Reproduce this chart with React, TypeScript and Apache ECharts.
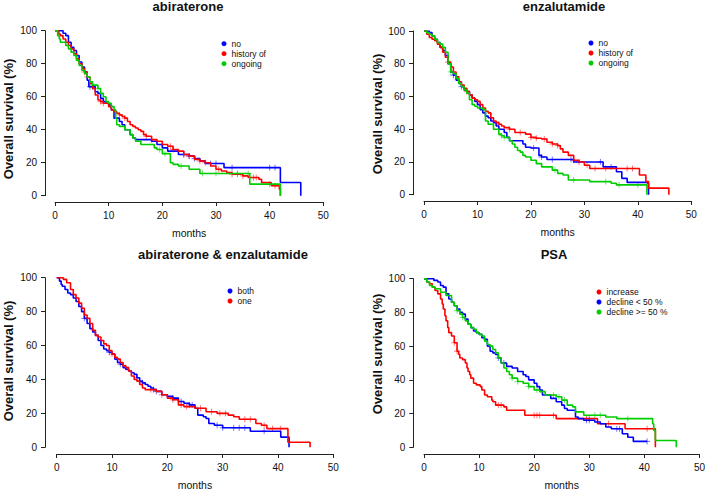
import React, { useEffect, useRef } from "react";
import * as echarts from "echarts";

const BLUE = "#0000FF";
const RED = "#FF0000";
const GREEN = "#00CD00";

const xTicks = [0, 10, 20, 30, 40, 50];
const yTicks = [0, 20, 40, 60, 80, 100];

const panelTitles = ["abiraterone", "enzalutamide", "abiraterone & enzalutamide", "PSA"];
const groupsTop = ["no", "history of", "ongoing"];
const groupsBoth = ["both", "one"];
const groupsPsa = ["increase", "decline < 50 %", "decline >= 50 %"];

// Panel 1: abiraterone
const abiNo = [[0,100],[1.5,98.5],[2,97],[2.5,93],[3,90],[3.5,88],[4,85],[4.5,81],[5,78],[5.5,75],[6,70],[6.3,66],[7.5,63],[8,62],[8.5,59],[9,57],[9.5,56],[10,55],[10.5,52],[11,47],[12,45],[12.5,43],[13,40],[14,37],[14.5,35],[15,34],[18,33],[19,31],[20,29],[21,27],[23,25],[25,24],[26,22.5],[27,21],[28,19.5],[31.5,17],[42,8],[45.8,0]];
const abiNoCens = [6.5, 7, 24, 25, 26, 29, 30, 33, 40, 41];
const abiHist = [[0,100],[0.7,98],[1,97],[1.5,95],[2,93],[2.5,91],[3,89],[3.5,86],[4,83],[4.5,80],[5,77],[5.5,75],[6,72],[6.5,68],[7,65],[7.5,61],[8,58],[8.5,57],[9,56],[10,54],[10.5,52],[11,51],[11.5,50],[12,49],[12.5,48],[13,47],[13.5,45],[14,43],[14.5,42],[15,41],[15.5,40],[16,39],[16.5,37],[17,36],[18,34],[19,33],[20,31],[21,30],[22,28],[23,27],[24,25],[25,24],[26,22],[27,21],[28,20],[29,18],[30,16],[31,15],[32,14],[33,13],[35,12],[36,11],[38,10],[38.5,8],[40.3,6],[41.8,4],[42,0]];
const abiHistCens = [5.5, 6, 8.5, 9, 12, 13, 17, 18, 20, 21.5, 22, 24, 25, 27, 28, 30.5, 33, 34, 35, 37, 37.5, 41];
const abiOng = [[0,100],[0.5,97],[0.8,95],[1,93],[2,91],[2.5,89],[3,87],[3.5,85],[4,82],[4.5,79],[5,76],[5.5,74],[6,72],[6.5,69],[7,67],[8,65],[8.5,62],[9,60],[9.5,57],[10,56],[10.5,54],[11,52],[11.3,47],[11.5,43],[12,42],[13,40],[14,37],[14.5,35],[15,33],[16,31],[18.5,29],[19,28],[20,25.5],[21.5,20],[22,19],[23,18],[25,16],[27,13.5],[36.3,7],[42,0]];
const abiOngCens = [7, 8, 19.5, 20.5, 23.5, 27.5, 30, 34, 36, 40];

// Panel 2: enzalutamide
const enzNo = [[0,100],[1,99],[1.5,97],[2,95],[2.5,93],[3,90],[3.5,88],[4,85],[4.5,80],[5,75],[5.5,73],[6,70],[6.5,68],[7,66],[7.5,64],[8,63],[8.5,61],[9,59],[9.5,57],[10,55],[10.5,52],[11,50],[11.5,48],[12,47],[12.5,45],[13,44],[13.5,42],[14,40],[15,38],[15.5,35],[16,33],[18,33],[18.5,31],[19,29],[20,28.5],[21.5,24],[22,23],[23,21.5],[28,20],[33.5,17],[36,14],[37,10],[38,7.5],[41.8,7],[42,0]];
const enzNoCens = [5.5, 7, 20.5, 22, 24, 27.5, 33, 35];
const enzHist = [[0,100],[0.5,98],[1,96],[1.5,95],[2,94],[2.5,92],[3,90],[3.5,87],[4,84],[4.5,81],[5,78],[5.5,75],[6,72],[6.5,69],[7,67],[7.5,65],[8,63],[8.5,61],[9,59],[9.5,58],[10,57],[10.5,55],[11,53],[11.5,51],[12,50],[12.5,47],[13,45],[13.5,44],[14,43],[14.5,42],[15,41],[16,40],[17,38],[19,37],[20,35],[21,34.5],[22,34],[23,32],[24,31],[25,30],[25.5,28],[26,26],[27,24],[28,21],[29,20],[30,18],[31,16],[40.3,12],[41.5,8],[42,4],[45.8,0]];
const enzHistCens = [4.5, 8, 12.5, 14, 16, 18, 20, 21, 22.5, 24, 25, 28, 29, 30.5, 32, 34, 38, 39];
const enzOng = [[0,100],[0.5,99],[1,98],[1.5,97],[2,95],[2.5,93],[3,92],[3.5,90],[4,87],[4.5,80],[5,75],[5.5,74],[6,71],[6.5,68],[7,66],[7.5,64],[8,62],[8.5,58],[9,55],[9.5,54],[10,53],[11,52],[11.5,45],[12,43],[13,40],[14,37],[14.5,36],[15,35],[16,33],[16.5,31],[17,29],[17.5,27],[18,26],[18.5,24],[19,23],[20,21],[21,19],[22,17],[24,15],[25,13],[26,12],[27,9],[31,8],[35,7],[36,6],[41.7,0]];
const enzOngCens = [5, 14.5, 15, 24.5, 28, 34, 36.5, 40];

// Panel 3: abiraterone & enzalutamide
const bothCurve = [[0,100],[0.5,98],[0.8,96],[1,95],[1.5,93],[2,91],[2.5,90],[3,88],[3.5,86],[4,83],[4.5,80],[5,76],[5.5,73],[6,70],[6.5,68],[7,66],[7.5,63],[8,60],[8.5,58],[9,57],[9.5,56],[10,55],[10.5,52],[11,50],[11.5,49],[12,47],[12.5,46],[13,45],[13.5,44],[14,43],[14.5,41],[15,39],[15.5,38],[16,37],[16.5,36],[17,35],[17.5,34],[18,33],[19,31],[20,30],[21,29],[22,27],[23,26],[24,25],[25,23],[25.5,19],[26.5,18],[27,17],[27.5,14],[28.5,13],[30,11.5],[35,9.5],[40.5,6],[42,0]];
const bothCens = [5, 9.5, 11.5, 14.5, 15.5, 17.5, 18, 21, 22.5, 24, 24.5, 29, 30, 32, 33, 34, 37.5];
const oneCurve = [[0,100],[1.2,99],[1.8,97],[2.5,93],[3,90],[3.5,88],[4,85],[4.5,82],[5,78],[5.5,76],[6,73],[6.5,69],[7,66],[7.5,65],[8,63],[8.5,61],[9,60],[9.5,57],[10,55],[10.5,53],[11,52],[11.5,50],[12,48],[12.5,47],[13,45],[13.5,42],[14,40],[14.5,39],[15,37],[15.5,35],[16,34],[18,33],[19,31],[20,29],[21,28],[22,25],[23,24],[25,23],[27,21],[29,20],[31,19],[32,18],[33,16.5],[36,14],[37,13],[38,11],[41.8,3],[45.8,0]];
const oneCens = [6, 10, 12.5, 17, 19, 21, 22.5, 23.5, 26, 28, 29.5, 30.5, 34, 35, 37.5, 39, 40.5];

// Panel 4: PSA
const psaInc = [[0,100],[0.5,98],[1,97],[1.5,95],[2,93],[2.5,91],[3,88],[3.3,85],[3.5,82],[3.8,78],[4,75],[4.3,71],[4.5,68],[5,66],[5.5,62],[6,57],[6.3,55],[6.5,53],[7,52],[7.5,50],[7.8,47],[8,45],[8.3,43],[8.5,41],[9,38],[9.5,37],[10.2,36],[10.5,34],[11,31],[11.5,30],[12.3,28],[12.5,27],[13,25],[14.5,24],[15,22],[18.3,19],[24,17],[31.5,14],[36.5,11],[42,0]];
const psaIncCens = [5.5, 6, 13.5, 14, 20, 20.5, 21, 23.5, 29.5, 30, 33.5, 40.5];
const psaLow = [[0,100],[1.8,99],[2.5,98],[3,96],[3.5,95],[4,91],[4.5,88],[5,86],[5.5,84],[6,82],[6.5,80],[7,79],[7.5,76],[8,73],[8.5,71],[9,69],[9.5,68],[10,67],[10.5,65],[11,64],[11.5,60],[12,57],[12.5,56],[13,55],[13.5,53],[14,50],[15,48],[16,47],[17,45],[18,43],[18.5,42],[19,40],[20,38],[20.5,36],[21,34],[21.5,31],[23,29],[24,27],[25,25],[25.5,23],[26,22],[27.5,18],[28,17],[29,16],[31,15],[32,14],[33,12],[34,11],[36,8],[37,6],[38,3.5],[40.5,3.5]];
const psaLowCens = [13.5, 14.5, 29.5, 30, 35, 35.5, 40.5];
const psaHigh = [[0,100],[0.5,98],[1,96],[1.5,95],[2,94],[3,92],[4,90],[5,86],[5.5,84],[6,81],[6.5,79],[7,77],[7.5,75],[8,73],[8.5,71],[9,70],[9.5,68],[10,67],[10.5,66],[11,63],[11.5,61],[12,60],[12.5,58],[13,56],[13.5,53],[14,50],[14.5,47],[15,45],[15.5,43],[16,41],[17,39],[18,38],[19,36],[20,34],[21,33],[22,31],[24,30],[25,28],[26,25],[27,24],[27.5,21],[29,19],[33,18],[35,17],[41.5,14],[41.7,10],[42,4],[45.8,0]];
const psaHighCens = [6, 7, 16, 17, 19, 20.5, 23.5, 24.5, 25.5, 31, 32, 37];

type Curve = number[][];

function survivalAt(curve: Curve, t: number): number {
  let s = curve[0][1];
  for (const p of curve) {
    if (p[0] <= t) s = p[1];
    else break;
  }
  return s;
}

const panels = [
  {
    grid: { left: 55, top: 30.7, width: 268.3, height: 165 },
    yOff: 10, xOff: 6.3,
    title: { x: 188, y: 0 },
    ylab: { x: 8, y: 119 },
    legend: { left: 221.5, top: 38.7 },
    names: groupsTop,
    curves: [
      { name: groupsTop[0], color: BLUE, data: abiNo, cens: abiNoCens },
      { name: groupsTop[1], color: RED, data: abiHist, cens: abiHistCens },
      { name: groupsTop[2], color: GREEN, data: abiOng, cens: abiOngCens },
    ],
  },
  {
    grid: { left: 424, top: 31, width: 267.3, height: 163.7 },
    yOff: 11, xOff: 6.3,
    title: { x: 564, y: 0 },
    ylab: { x: 377, y: 114 },
    legend: { left: 588.5, top: 38 },
    names: groupsTop,
    curves: [
      { name: groupsTop[0], color: BLUE, data: enzNo, cens: enzNoCens },
      { name: groupsTop[1], color: RED, data: enzHist, cens: enzHistCens },
      { name: groupsTop[2], color: GREEN, data: enzOng, cens: enzOngCens },
    ],
  },
  {
    grid: { left: 56.7, top: 277.7, width: 276.6, height: 170.6 },
    yOff: 11.7, xOff: 6.7,
    title: { x: 223, y: 248 },
    ylab: { x: 8, y: 361 },
    legend: { left: 227.5, top: 286 },
    names: groupsBoth,
    curves: [
      { name: groupsBoth[0], color: BLUE, data: bothCurve, cens: bothCens },
      { name: groupsBoth[1], color: RED, data: oneCurve, cens: oneCens },
    ],
  },
  {
    grid: { left: 424, top: 278.7, width: 277.7, height: 170.3 },
    yOff: 10.7, xOff: 6.7,
    title: { x: 554, y: 248 },
    ylab: { x: 377, y: 354 },
    legend: { left: 596.5, top: 287 },
    names: groupsPsa,
    curves: [
      { name: groupsPsa[0], color: RED, data: psaInc, cens: psaIncCens },
      { name: groupsPsa[1], color: BLUE, data: psaLow, cens: psaLowCens },
      { name: groupsPsa[2], color: GREEN, data: psaHigh, cens: psaHighCens },
    ],
  },
];

const FONT = "'Liberation Sans', Arial, Helvetica, sans-serif";
const PLUS = "path://M0,5L10,5M5,0L5,10";

export default function App() {
  const ref = useRef<HTMLDivElement>(null);
  useEffect(() => {
    if (!ref.current) return;
    const chart = echarts.init(ref.current, null, { renderer: "svg" });
    const series: any[] = [];
    panels.forEach((p, i) => {
      p.curves.forEach((c, k) => {
        series.push({
          type: "line",
          name: c.name,
          xAxisIndex: i,
          yAxisIndex: i,
          step: "end",
          showSymbol: false,
          symbol: "none",
          color: c.color,
          lineStyle: { color: c.color, width: 1.6 },
          data: c.data,
          z: 3,
        });
        series.push({
          type: "scatter",
          name: "censored " + i + "-" + k,
          xAxisIndex: i,
          yAxisIndex: i,
          symbol: PLUS,
          symbolSize: 6,
          itemStyle: { color: "rgba(0,0,0,0)", borderColor: c.color, borderWidth: 1, opacity: 0.55 },
          data: c.cens.map((t) => [t, survivalAt(c.data, t)]),
          z: 2,
        });
      });
    });
    const option: any = {
      animation: false,
      backgroundColor: "#ffffff",
      textStyle: { fontFamily: FONT },
      title: panels.map((p, i) => ({
        text: panelTitles[i],
        left: p.title.x,
        top: p.title.y,
        textAlign: "center",
        padding: 0,
        textStyle: { fontFamily: FONT, fontSize: 13, fontWeight: "bold", color: "#111" },
      })),
      legend: panels.map((p) => ({
        data: p.names,
        orient: "vertical",
        left: p.legend.left,
        top: p.legend.top,
        icon: "circle",
        itemWidth: 5,
        itemHeight: 5,
        itemGap: 0,
        padding: 0,
        selectedMode: false,
        textStyle: { fontFamily: FONT, fontSize: 8.5, lineHeight: 10, color: "#111", padding: [0, 0, 0, 0] },
      })),
      grid: panels.map((p) => ({ ...p.grid, containLabel: false })),
      xAxis: panels.map((p, i) => ({
        type: "value",
        gridIndex: i,
        min: xTicks[0],
        max: xTicks[xTicks.length - 1],
        interval: 10,
        offset: p.xOff,
        name: "months",
        nameLocation: "middle",
        nameGap: 25,
        nameTextStyle: { fontFamily: FONT, fontSize: 10.5, color: "#111" },
        axisLine: { show: true, onZero: false, lineStyle: { color: "#222", width: 1 } },
        axisTick: { show: true, length: 4, lineStyle: { color: "#222" } },
        axisLabel: { fontFamily: FONT, fontSize: 10, color: "#111", margin: 8, showMinLabel: true, showMaxLabel: true },
        splitLine: { show: false },
      })),
      yAxis: panels.map((p, i) => ({
        type: "value",
        gridIndex: i,
        min: yTicks[0],
        max: yTicks[yTicks.length - 1],
        interval: 20,
        offset: p.yOff,
        axisLine: { show: true, onZero: false, lineStyle: { color: "#222", width: 1 } },
        axisTick: { show: true, length: 4, lineStyle: { color: "#222" } },
        axisLabel: { fontFamily: FONT, fontSize: 10, color: "#111", margin: 8, showMinLabel: true, showMaxLabel: true },
        splitLine: { show: false },
      })),
      graphic: panels.map((p) => ({
        type: "text",
        x: p.ylab.x,
        y: p.ylab.y,
        rotation: Math.PI / 2,
        style: {
          text: "Overall survival (%)",
          font: "bold 13px " + FONT,
          fill: "#111",
          textAlign: "center",
          textVerticalAlign: "middle",
        },
      })),
      series,
    };
    chart.setOption(option);
    return () => chart.dispose();
  }, []);
  return (
    <div
      ref={ref}
      style={{ position: "fixed", left: 0, top: 0, width: 708, height: 491, background: "#fff" }}
    />
  );
}
